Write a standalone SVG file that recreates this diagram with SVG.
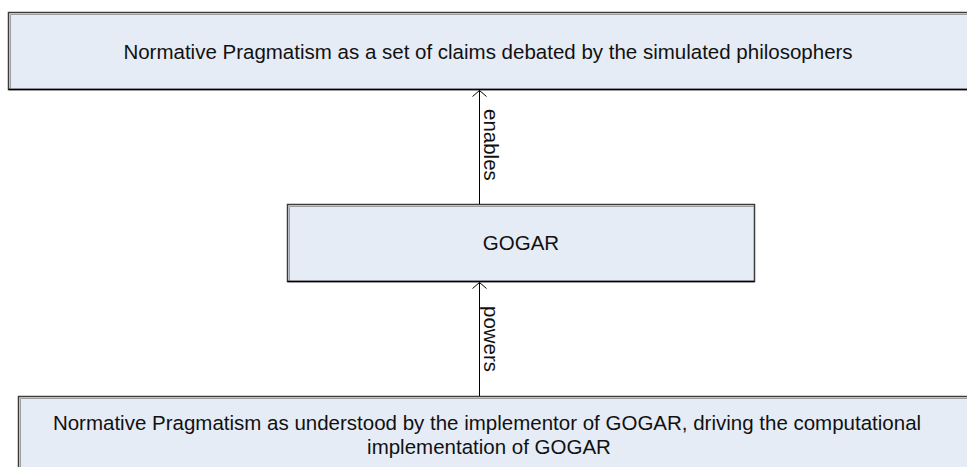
<svg xmlns="http://www.w3.org/2000/svg" width="967" height="467" viewBox="0 0 967 467">
  <defs>
    <style>
      .box { fill: #e6ecf6; stroke: #3c3c3c; stroke-width: 1.5; }
      .bevel { stroke: #a0a0a0; stroke-width: 1; fill: none; }
      .base { stroke: #000000; stroke-width: 1.5; fill: none; }
      .lbl { font-family: "Liberation Sans", Arial, sans-serif; font-size: 20.5px; fill: #111111; text-anchor: middle; }
      .edge { stroke: #000000; stroke-width: 1; fill: none; }
      .elbl { font-family: "Liberation Sans", Arial, sans-serif; font-size: 20.5px; fill: #111111; }
    </style>
    <marker id="open" markerWidth="16" markerHeight="16" refX="7" refY="8" orient="auto" markerUnits="userSpaceOnUse">
      <path d="M1,1 L7,8 L1,15" fill="none" stroke="#000" stroke-width="1"/>
    </marker>
  </defs>
  <rect width="967" height="467" fill="#ffffff"/>

  <g id="claims">
    <rect class="box" x="8.5" y="12.5" width="970" height="77"/>
    <path class="bevel" d="M10.5,89 V14.5 H975"/>
    <path class="base" d="M8.5,89.5 H975"/>
    <text class="lbl" x="488" y="59">Normative Pragmatism as a set of claims debated by the simulated philosophers</text>
  </g>

  <g id="gogar">
    <rect class="box" x="287.5" y="204.5" width="467" height="77"/>
    <path class="bevel" d="M289.5,281 V206.5 H754"/>
    <path class="base" d="M287.5,281.5 H754.5"/>
    <text class="lbl" x="521" y="250">GOGAR</text>
  </g>

  <g id="implementor">
    <rect class="box" x="18.5" y="396.5" width="960" height="80"/>
    <path class="bevel" d="M20.5,470 V398.5 H975"/>
    <text class="lbl" x="487" y="429.5">Normative Pragmatism as understood by the implementor of GOGAR, driving the computational</text>
    <text class="lbl" x="489" y="453.5">implementation of GOGAR</text>
  </g>

  <g id="connectors">
    <line class="edge" x1="479.5" y1="204" x2="479.5" y2="90.5" marker-end="url(#open)"/>
    <text class="elbl" transform="translate(484,109) rotate(90)">enables</text>
    <line class="edge" x1="479.5" y1="396" x2="479.5" y2="282.5" marker-end="url(#open)"/>
    <text class="elbl" transform="translate(484,306) rotate(90)">powers</text>
  </g>
</svg>
